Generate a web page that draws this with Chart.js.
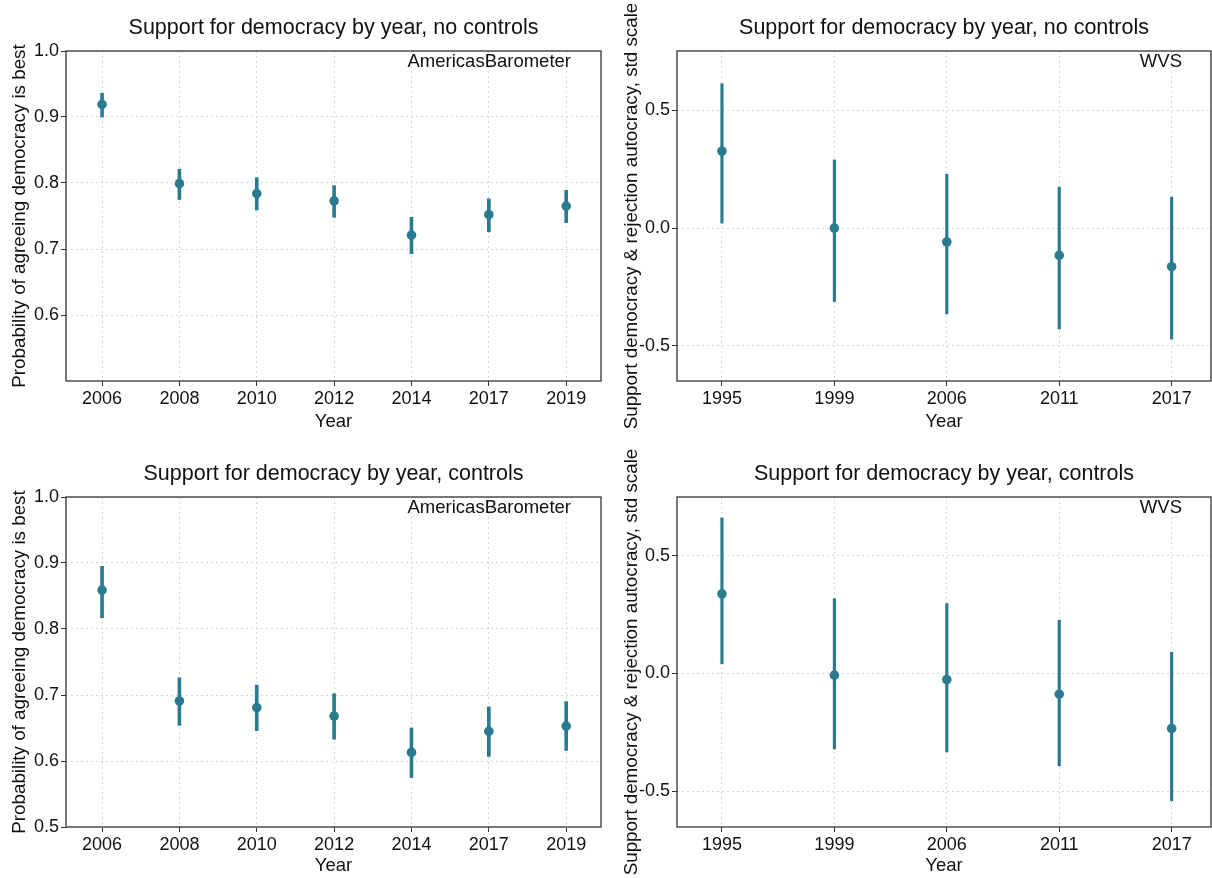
<!DOCTYPE html>
<html>
<head>
<meta charset="utf-8">
<script src="https://cdn.jsdelivr.net/npm/chart.js@4"></script>
<style>
  body { margin: 0; background: #fff; }
  .panel { position: absolute; width: 606px; height: 439px; }
</style>
</head>
<body>
<div class="panel" style="left:0;top:0"><canvas id="abNo" width="606" height="439"></canvas></div>
<div class="panel" style="left:606px;top:0"><canvas id="wvsNo" width="606" height="439"></canvas></div>
<div class="panel" style="left:0;top:439px"><canvas id="abCt" width="606" height="439"></canvas></div>
<div class="panel" style="left:606px;top:439px"><canvas id="wvsCt" width="606" height="439"></canvas></div>
<script>
const abYears = ['2006', '2008', '2010', '2012', '2014', '2017', '2019'];
const abNoCtrl   = [0.919, 0.799, 0.784, 0.773, 0.721, 0.752, 0.765];
const abNoCtrlLo = [0.900, 0.775, 0.759, 0.748, 0.693, 0.726, 0.740];
const abNoCtrlHi = [0.936, 0.821, 0.808, 0.796, 0.748, 0.776, 0.789];
const abCtrl     = [0.859, 0.691, 0.681, 0.668, 0.613, 0.645, 0.653];
const abCtrlLo   = [0.817, 0.654, 0.646, 0.633, 0.575, 0.607, 0.616];
const abCtrlHi   = [0.895, 0.726, 0.715, 0.702, 0.650, 0.682, 0.690];

const wvsYears = ['1995', '1999', '2006', '2011', '2017'];
const wvsNoCtrl   = [0.327, 0.000, -0.059, -0.116, -0.164];
const wvsNoCtrlLo = [0.021, -0.312, -0.365, -0.429, -0.472];
const wvsNoCtrlHi = [0.614, 0.290, 0.229, 0.174, 0.132];
const wvsCtrl     = [0.339, -0.007, -0.026, -0.088, -0.234];
const wvsCtrlLo   = [0.041, -0.321, -0.334, -0.393, -0.542];
const wvsCtrlHi   = [0.662, 0.318, 0.298, 0.227, 0.091];

const abTicksTop = [0.6, 0.7, 0.8, 0.9, 1.0];
const abTicksBottom = [0.5, 0.6, 0.7, 0.8, 0.9, 1.0];
const wvsTicks = [-0.5, 0.0, 0.5];

const abTitle = 'Probability of agreeing democracy is best';
const wvsTitle = 'Support democracy & rejection autocracy, std scale';

const COLOR = '#2a7b8f';
const FONT = "'Liberation Sans', Arial, sans-serif";

// draws the panel title, y title, frame and source label
const decorations = {
  id: 'decorations',
  afterDraw: (chart) => {
    const o = chart.options.plugins.decorations;
    const {ctx, chartArea: a} = chart;
    ctx.save();
    ctx.strokeStyle = '#333';
    ctx.lineWidth = 1.3;
    ctx.strokeRect(a.left, a.top, a.right - a.left, a.bottom - a.top);
    ctx.fillStyle = '#111';
    ctx.textBaseline = 'middle';
    ctx.font = `21.5px ${FONT}`;
    ctx.textAlign = 'center';
    ctx.fillText(o.title, (a.left + a.right) / 2, o.titleY);
    ctx.font = `18.5px ${FONT}`;
    ctx.textAlign = 'right';
    ctx.fillText(o.source, a.right - o.sourceRight, a.top + 11);
    ctx.save();
    ctx.translate(o.yTitleX, (a.top + a.bottom) / 2);
    ctx.rotate(-Math.PI / 2);
    ctx.font = `18.8px ${FONT}`;
    ctx.textAlign = 'center';
    ctx.fillText(o.yTitle, 0, 0);
    ctx.restore();
    ctx.restore();
  }
};

const makePanel = (id, p) => {
  const ctx = document.getElementById(id).getContext('2d');
  return new Chart(ctx, {
    type: 'bar',
    data: {
      datasets: [
        {
          type: 'line',
          data: p.est.map((v, i) => ({x: i, y: v})),
          showLine: false,
          pointRadius: 4.8,
          pointHoverRadius: 4.8,
          pointBorderWidth: 0,
          pointBackgroundColor: COLOR
        },
        {
          data: p.lo.map((v, i) => ({x: i, y: [v, p.hi[i]]})),
          backgroundColor: COLOR,
          barThickness: p.barWidth,
          borderWidth: 0
        }
      ]
    },
    options: {
      responsive: false,
      animation: false,
      layout: {
        autoPadding: false,
        padding: { top: p.top, right: p.right, bottom: 0, left: 0 }
      },
      plugins: {
        legend: { display: false },
        tooltip: { enabled: false },
        decorations: {
          title: p.title, titleY: p.titleY, source: p.source, sourceRight: p.sourceRight,
          yTitle: p.yTitle, yTitleX: p.yTitleX
        }
      },
      scales: {
        x: {
          type: 'linear',
          min: p.xMin,
          max: p.xMax,
          offset: false,
          afterBuildTicks: (scale) => { scale.ticks = p.labels.map((_, i) => ({value: i})); },
          afterFit: (scale) => {
            scale.height = p.xHeight;
            scale.paddingLeft = 0;
            scale.paddingRight = 0;
          },
          ticks: {
            callback: (v) => p.labels[v],
            color: '#111',
            font: { family: FONT, size: 18 },
            padding: 2,
            maxRotation: 0
          },
          grid: {
            offset: false,
            color: '#d6d6d6',
            tickColor: '#333',
            tickLength: 5,
            tickBorderDash: []
          },
          border: { display: false, dash: [2, 3] },
          title: {
            display: true,
            text: 'Year',
            color: '#111',
            font: { family: FONT, size: 18.5 },
            padding: { top: 0, bottom: p.yearPad }
          }
        },
        y: {
          min: p.yMin,
          max: p.yMax,
          beginAtZero: false,
          afterBuildTicks: (scale) => { scale.ticks = p.yTicks.map(v => ({value: v})); },
          afterFit: (scale) => { scale.width = p.yWidth; },
          ticks: {
            callback: (v) => v.toFixed(1),
            color: '#111',
            font: { family: FONT, size: 18 },
            padding: 2
          },
          grid: {
            color: '#d6d6d6',
            tickColor: '#333',
            tickLength: 5,
            tickBorderDash: []
          },
          border: { display: false, dash: [2, 3] }
        }
      }
    },
    plugins: [decorations]
  });
};

const abBase = {
  labels: abYears, xMin: -0.466, xMax: 6.45, yMin: 0.5, yMax: 1.0,
  yWidth: 66, right: 5, barWidth: 3, source: 'AmericasBarometer', sourceRight: 30,
  yTitle: abTitle, yTitleX: 20
};
const wvsBase = {
  labels: wvsYears, xMin: -0.4, xMax: 4.35, yTicks: wvsTicks,
  yWidth: 71, right: 1, barWidth: 2.5, source: 'WVS', sourceRight: 29,
  yTitle: wvsTitle, yTitleX: 26
};

makePanel('abNo', Object.assign({}, abBase, {
  est: abNoCtrl, lo: abNoCtrlLo, hi: abNoCtrlHi, yTicks: abTicksTop,
  title: 'Support for democracy by year, no controls', titleY: 28,
  top: 51, xHeight: 58, yearPad: 6
}));
makePanel('wvsNo', Object.assign({}, wvsBase, {
  est: wvsNoCtrl, lo: wvsNoCtrlLo, hi: wvsNoCtrlHi, yMin: -0.65, yMax: 0.753,
  title: 'Support for democracy by year, no controls', titleY: 28,
  top: 51, xHeight: 58, yearPad: 6
}));
makePanel('abCt', Object.assign({}, abBase, {
  est: abCtrl, lo: abCtrlLo, hi: abCtrlHi, yTicks: abTicksBottom,
  title: 'Support for democracy by year, controls', titleY: 35,
  top: 58, xHeight: 51, yearPad: 1
}));
makePanel('wvsCt', Object.assign({}, wvsBase, {
  est: wvsCtrl, lo: wvsCtrlLo, hi: wvsCtrlHi, yMin: -0.653, yMax: 0.751,
  title: 'Support for democracy by year, controls', titleY: 35,
  top: 58, xHeight: 51, yearPad: 1
}));
</script>
</body>
</html>
